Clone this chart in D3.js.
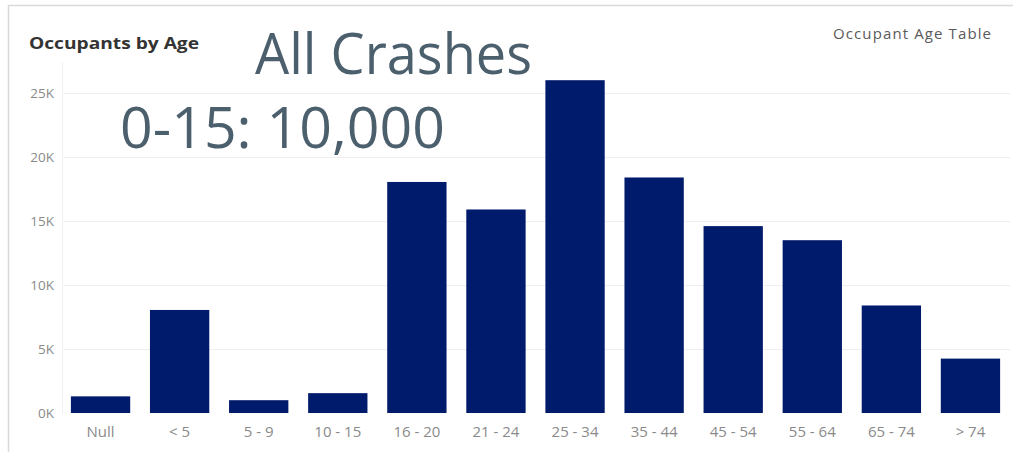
<!DOCTYPE html>
<html>
<head>
<meta charset="utf-8">
<script src="https://cdn.jsdelivr.net/npm/d3@7"></script>
<style>
  html, body { margin: 0; padding: 0; background: #fff; }
  svg { display: block; }
</style>
</head>
<body>
<svg id="chart" width="1013" height="452"></svg>
<script>
const categories = ["Null", "< 5", "5 - 9", "10 - 15", "16 - 20", "21 - 24", "25 - 34", "35 - 44", "45 - 54", "55 - 64", "65 - 74", "> 74"];
const occupants = [1300, 8050, 1000, 1550, 18050, 15900, 26000, 18400, 14600, 13500, 8400, 4250];
const yTicks = [0, 5000, 10000, 15000, 20000, 25000];
const titleText = "Occupants by Age";
const linkText = "Occupant Age Table";
const overlay1 = "All Crashes";
const overlay2 = "0-15: 10,000";

const svg = d3.select("#chart");

// dashboard frame
svg.append("line").attr("x1", 8).attr("x2", 1013).attr("y1", 5.5).attr("y2", 5.5)
  .attr("stroke", "#d9d9d9").attr("stroke-width", 1.5);
svg.append("line").attr("x1", 8.5).attr("x2", 8.5).attr("y1", 5).attr("y2", 452)
  .attr("stroke", "#d9d9d9").attr("stroke-width", 1.5);

const x = d3.scaleBand().domain(categories).range([61, 1010]).paddingInner(0.25).paddingOuter(0.125);
const y = d3.scaleLinear().domain([0, 25000]).range([413, 93]);

// gridlines
svg.append("g").selectAll("line").data(yTicks.filter(d => d > 0)).join("line")
  .attr("x1", 62).attr("x2", 1010)
  .attr("y1", d => Math.round(y(d)) + 0.5).attr("y2", d => Math.round(y(d)) + 0.5)
  .attr("stroke", "#efefef").attr("stroke-width", 1);
svg.append("line").attr("x1", 62.5).attr("x2", 62.5).attr("y1", 62).attr("y2", 414)
  .attr("stroke", "#f0f0f0");

// y axis
const yAxis = svg.append("g").attr("transform", "translate(62,0)")
  .call(d3.axisLeft(y).tickValues(yTicks).tickFormat(d => (d / 1000) + "K").tickSize(0).tickPadding(8));
yAxis.select(".domain").remove();
yAxis.selectAll("text").attr("fill", "#8a8a8a").style("font-family", "'Open Sans', sans-serif").style("font-size", "13.5px");

// x axis
const xAxis = svg.append("g").attr("transform", "translate(0,414)")
  .call(d3.axisBottom(x).tickSize(0).tickPadding(12));
xAxis.select(".domain").remove();
xAxis.selectAll("text").attr("fill", "#8a8a8a").style("font-family", "'Open Sans', sans-serif").style("font-size", "15px");

// bars
svg.append("g").selectAll("rect").data(categories).join("rect")
  .attr("x", d => x(d))
  .attr("width", x.bandwidth())
  .attr("y", (d, i) => y(occupants[i]))
  .attr("height", (d, i) => y(0) - y(occupants[i]))
  .attr("fill", "#001a6c");

// titles
svg.append("text").attr("x", 29).attr("y", 49).text(titleText)
  .attr("fill", "#333").style("font-family", "'Open Sans', sans-serif")
  .style("font-weight", "bold").style("font-size", "16px")
  .attr("textLength", 170).attr("lengthAdjust", "spacingAndGlyphs");
svg.append("text").attr("x", 833).attr("y", 39).text(linkText)
  .attr("fill", "#5a5a5a").style("font-family", "'Open Sans', sans-serif").style("font-size", "15px")
  .attr("textLength", 158).attr("lengthAdjust", "spacing");

svg.append("text").attr("x", 255).attr("y", 74).text(overlay1)
  .attr("fill", "#4b5f6d").style("font-family", "'Open Sans', sans-serif").style("font-size", "57px")
  .attr("textLength", 277).attr("lengthAdjust", "spacingAndGlyphs");
svg.append("text").attr("x", 120).attr("y", 148).text(overlay2)
  .attr("fill", "#4b5f6d").style("font-family", "'Open Sans', sans-serif").style("font-size", "57px")
  .attr("textLength", 325).attr("lengthAdjust", "spacingAndGlyphs");
</script>
</body>
</html>
